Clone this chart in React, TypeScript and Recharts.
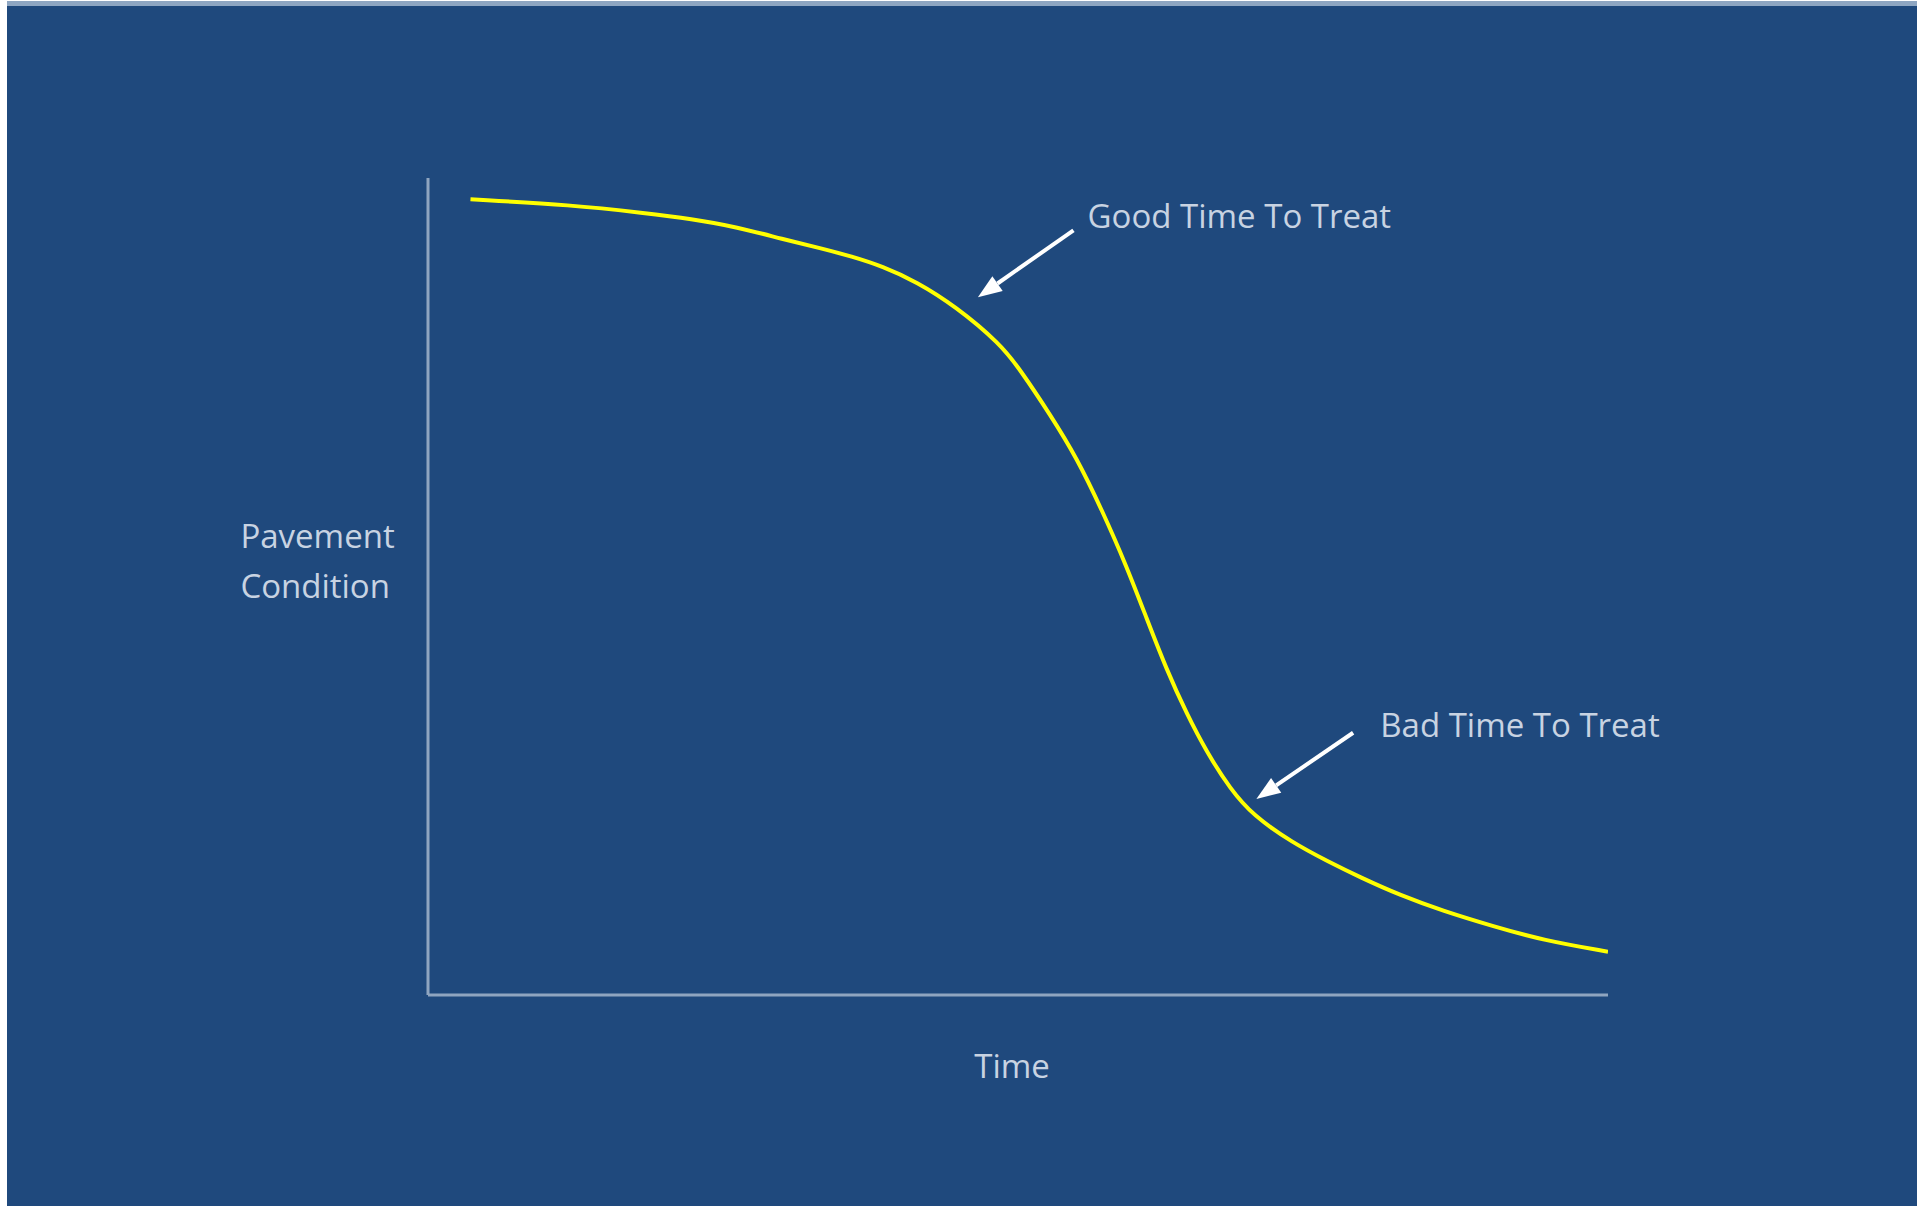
import { Line, LineChart, ReferenceDot, ReferenceLine, XAxis, YAxis } from "recharts"

// pavement condition curve, time 0-100 vs condition 0-100
const time = [3.6, 12.2, 18.4, 22.3, 26.2, 30.1, 33.3, 35.9, 38.5, 41.4, 44.7, 48.5, 50.2, 52.7, 55.0, 57.1, 59.2, 60.9, 62.6, 64.3, 66.0, 68.0, 69.9, 73.3, 76.2, 79.0, 82.4, 86.0, 90.3, 94.5, 100]
const condition = [97.4, 96.7, 95.7, 95.0, 94.0, 92.5, 91.4, 90.4, 89.2, 87.3, 84.3, 79.7, 76.5, 71.1, 65.7, 59.4, 52.5, 46.1, 39.8, 34.4, 29.7, 25.2, 22.0, 18.6, 16.4, 14.4, 12.2, 10.3, 8.4, 6.7, 5.3]

// annotations: [label, x, y] in data units
const notes: [string, number, number][] = [
  ["Good Time To Treat", 55.9, 93.9],
  ["Bad Time To Treat", 80.7, 31.6],
  ["Pavement", -15.9, 54.7],
  ["Condition", -15.9, 48.6],
]
const axisTitle: [string, number, number] = ["Time", 49.5, -10.2]

// arrows: tail -> tip
const arrows = [
  { from: [54.7, 93.6], to: [46.6, 85.4] },
  { from: [78.4, 32.1], to: [70.2, 24.0] },
]

const data = time.map((t, i) => ({ t, c: condition[i] }))

const BG = "#1f497d"
const AXIS = "#8fa5c0"
const TEXT = "#c8d3e2"
const FONT = "'Open Sans', sans-serif"

function Arrow(props: any) {
  const { x1, y1, x2, y2 } = props
  if (x1 == null) return null
  const dx = x2 - x1
  const dy = y2 - y1
  const len = Math.sqrt(dx * dx + dy * dy)
  const ux = dx / len
  const uy = dy / len
  const hl = 24
  const hw = 9
  const bx = x2 - ux * hl
  const by = y2 - uy * hl
  return (
    <g>
      <line x1={x1} y1={y1} x2={bx} y2={by} stroke="#ffffff" strokeWidth={4} />
      <polygon
        points={`${x2},${y2} ${bx - uy * hw},${by + ux * hw} ${bx + uy * hw},${by - ux * hw}`}
        fill="#ffffff"
      />
    </g>
  )
}

function label(text: string, anchor: string) {
  return (p: any) => (
    <text x={p.cx} y={p.cy} fill={TEXT} fontSize={33} fontFamily={FONT} textAnchor={anchor}>
      {text}
    </text>
  )
}

export default function App() {
  return (
    <div style={{ position: "absolute", left: 0, top: 0, width: 1925, height: 1206, background: "#ffffff" }}>
      <div style={{ position: "absolute", left: 7, top: 1, width: 1910, height: 5, background: "#8ea6c2" }} />
      <div style={{ position: "absolute", left: 7, top: 6, width: 1910, height: 1200, background: BG }}>
        <LineChart width={1910} height={1200} data={data} margin={{ top: 172, right: 309, bottom: 210, left: 420 }}>
          <XAxis
            dataKey="t"
            type="number"
            domain={[0, 100]}
            allowDataOverflow
            height={1}
            tick={false}
            tickLine={false}
            axisLine={{ stroke: AXIS, strokeWidth: 3 }}
          />
          <YAxis
            type="number"
            domain={[0, 100]}
            allowDataOverflow
            width={1}
            tick={false}
            tickLine={false}
            axisLine={{ stroke: AXIS, strokeWidth: 3 }}
          />
          <Line type="basis" dataKey="c" stroke="#ffff00" strokeWidth={4} dot={false} isAnimationActive={false} />
          {arrows.map((a, i) => (
            <ReferenceLine
              key={"a" + i}
              segment={[
                { x: a.from[0], y: a.from[1] },
                { x: a.to[0], y: a.to[1] },
              ]}
              ifOverflow="visible"
              shape={Arrow}
            />
          ))}
          {notes.map(([text, x, y]) => (
            <ReferenceDot key={text} x={x} y={y} r={0} ifOverflow="visible" shape={label(text, "start")} />
          ))}
          <ReferenceDot x={axisTitle[1]} y={axisTitle[2]} r={0} ifOverflow="visible" shape={label(axisTitle[0], "middle")} />
        </LineChart>
      </div>
    </div>
  )
}
